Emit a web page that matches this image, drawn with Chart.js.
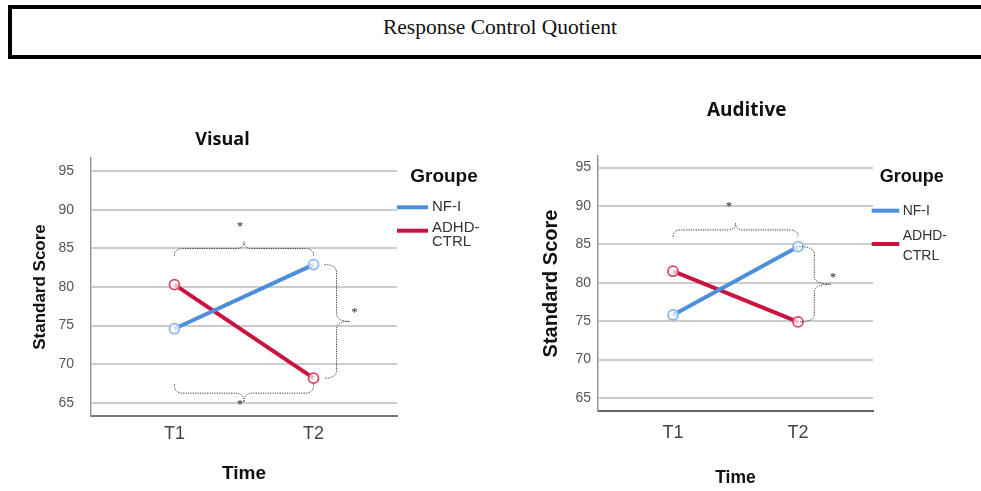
<!DOCTYPE html>
<html><head><meta charset="utf-8">
<script src="https://cdn.jsdelivr.net/npm/chart.js@4.4.1/dist/chart.umd.min.js"></script>
<style>
html,body{margin:0;padding:0;background:#fff;width:981px;height:491px;overflow:hidden;position:relative;}
#hdr{position:absolute;left:8px;top:5px;width:984px;height:54px;box-sizing:border-box;border:4px solid #000;font-family:"Liberation Serif","Times New Roman",serif;font-size:21.5px;color:#111;text-align:center;line-height:36px;}
#c1{position:absolute;left:0;top:120px;}
#c2{position:absolute;left:490px;top:90px;}
</style></head><body>
<div id="hdr"></div>
<canvas id="c1" width="490" height="371"></canvas>
<canvas id="c2" width="491" height="401"></canvas>
<script>
// ---- data ----
const headerTitle = 'Response Control Quotient';
const panelTitles = ['Visual', 'Auditive'];
const timeLabels = ['T1', 'T2'];
const yTicks = [65, 70, 75, 80, 85, 90, 95];
const groupTitle = 'Groupe';
const groupNames = ['NF-I', ['ADHD-', 'CTRL']];
const visualNFI = [74.6, 82.9];
const visualADHD = [80.3, 68.2];
const auditiveNFI = [75.8, 84.7];
const auditiveADHD = [81.5, 74.9];
const yAxisTitle = 'Standard Score';
const xAxisTitle = 'Time';
const sigMark = '*';

document.getElementById('hdr').textContent = headerTitle;

const BLUE = '#4d8fdc', RED = '#c8143f';
const BLUE_PT = '#8ab8ec', RED_PT = '#dc4466';

function drawBrace(ctx, horiz, a1, a2, c, s, hT, hP) {
  const P = (u, v) => horiz ? [u, v] : [v, u];
  const am = (a1 + a2) / 2, r = Math.min(8, (a2 - a1) / 4);
  ctx.beginPath();
  ctx.moveTo(...P(a1, c - s * hT));
  ctx.quadraticCurveTo(...P(a1, c), ...P(a1 + r, c));
  ctx.lineTo(...P(am - r, c));
  ctx.quadraticCurveTo(...P(am, c), ...P(am, c + s * hP));
  ctx.quadraticCurveTo(...P(am, c), ...P(am + r, c));
  ctx.lineTo(...P(a2 - r, c));
  ctx.quadraticCurveTo(...P(a2, c), ...P(a2, c - s * hT));
  ctx.stroke();
}

const decor = {
  id: 'decor',
  afterDraw(chart, args, o) {
    const ctx = chart.ctx, g = o.g;
    ctx.save();
    // panel title
    ctx.fillStyle = '#111';
    ctx.textAlign = 'center'; ctx.textBaseline = 'middle';
    ctx.font = `bold ${g.titleSize}px "Open Sans", Lato, sans-serif`;
    ctx.fillText(o.title, g.titleX, g.titleY);
    // legend
    ctx.font = `bold ${g.groupSize}px "Liberation Sans", Arial, sans-serif`;
    ctx.fillText(groupTitle, g.groupX, g.groupY);
    ctx.textAlign = 'left';
    ctx.font = `${g.itemSize}px "Liberation Sans", Arial, sans-serif`;
    ctx.fillStyle = '#333';
    const cols = [BLUE, RED];
    g.items.forEach((it, i) => {
      ctx.strokeStyle = cols[i]; ctx.lineWidth = 4; ctx.lineCap = 'butt';
      ctx.beginPath(); ctx.moveTo(g.lineX0, it.ly); ctx.lineTo(g.lineX1, it.ly); ctx.stroke();
      const t = groupNames[i];
      const lines = Array.isArray(t) ? t : [t];
      lines.forEach((ln, k) => ctx.fillText(ln, g.textX, it.ty[k]));
    });
    // braces
    const m0 = chart.getDatasetMeta(0).data, m1 = chart.getDatasetMeta(1).data;
    const all = [...m0, ...m1];
    const x1 = m0[0].x, x2 = m0[1].x, xm = (x1 + x2) / 2;
    ctx.strokeStyle = '#333'; ctx.lineWidth = 1;
    ctx.fillStyle = '#222';
    ctx.font = '12px "Liberation Serif", serif';
    ctx.textAlign = 'center'; ctx.textBaseline = 'middle';
    g.braces.forEach(b => {
      ctx.setLineDash([1.2, 1.2]);
      if (b.type === 'top') {
        const c = Math.min(...all.map(p => p.y)) - b.gap;
        drawBrace(ctx, true, x1, x2, c, -1, b.hT, b.hP);
        ctx.setLineDash([]);
        ctx.fillText(sigMark, xm + b.star[0], c - b.hP + b.star[1]);
      } else if (b.type === 'bottom') {
        const c = Math.max(...all.map(p => p.y)) + b.gap;
        drawBrace(ctx, true, x1, x2, c, 1, b.hT, b.hP);
        ctx.setLineDash([]);
        ctx.fillText(sigMark, xm + b.star[0], c + b.hP + b.star[1]);
      } else {
        const ya = Math.min(m0[1].y, m1[1].y), yb = Math.max(m0[1].y, m1[1].y);
        const c = x2 + b.gap;
        drawBrace(ctx, false, ya, yb, c, 1, b.hT, b.hP);
        ctx.setLineDash([]);
        ctx.fillText(sigMark, c + b.hP + b.star[0], (ya + yb) / 2 + b.star[1]);
      }
    });
    ctx.restore();
  }
};

function makeChart(id, title, nfi, adhd, g) {
  const pts = arr => arr.map((v, i) => ({x: i, y: v}));
  return new Chart(document.getElementById(id), {
    type: 'line',
    data: {
      datasets: [
        {label: groupNames[0], data: pts(nfi), borderColor: BLUE, borderWidth: 4,
         pointRadius: 5, pointBorderWidth: 1.8, pointBorderColor: BLUE_PT, pointBackgroundColor: 'rgba(255,255,255,0.7)'},
        {label: 'ADHD-CTRL', data: pts(adhd), borderColor: RED, borderWidth: 4,
         pointRadius: 5, pointBorderWidth: 1.8, pointBorderColor: RED_PT, pointBackgroundColor: 'rgba(255,255,255,0.7)'}
      ]
    },
    options: {
      responsive: false, animation: false, events: [],
      layout: {padding: {left: 0, top: g.padTop, right: g.padRight, bottom: 0}},
      plugins: {legend: {display: false}, title: {display: false}, tooltip: {enabled: false}, decor: {title, g}},
      scales: {
        x: {
          type: 'linear', min: -0.6, max: 1.6,
          afterBuildTicks: s => { s.ticks = timeLabels.map((_, i) => ({value: i})); },
          afterFit: s => { s.height = g.xH; },
          ticks: {callback: v => timeLabels[v], color: '#444', padding: g.xTickPad,
                  font: {family: '"Liberation Sans", Arial, sans-serif', size: g.xTickSize}, autoSkip: false, maxRotation: 0},
          grid: {display: false, drawTicks: false},
          border: {display: true, color: g.xAxisColor, width: 2},
          title: {display: true, text: xAxisTitle, color: '#111',
                  font: {family: '"Liberation Sans", Arial, sans-serif', size: g.xTitleSize, weight: 'bold'},
                  padding: {top: 0, bottom: g.xTitlePadB}}
        },
        y: {
          type: 'linear', min: g.yMin, max: g.yMax,
          afterBuildTicks: s => { s.ticks = yTicks.map(v => ({value: v})); },
          afterFit: s => { s.width = g.yW; },
          ticks: {color: '#555', padding: g.yTickPad,
                  font: {family: '"Liberation Sans", Arial, sans-serif', size: 14}},
          grid: {color: '#cccccc', lineWidth: 2, drawTicks: false},
          border: {display: true, color: '#999', width: 1.5},
          title: {display: true, text: yAxisTitle, color: '#111',
                  font: {family: '"Liberation Sans", Arial, sans-serif', size: g.yTitleSize, weight: 'bold'},
                  padding: {top: g.yTitlePadT, bottom: 0}}
        }
      }
    },
    plugins: [decor]
  });
}

makeChart('c1', panelTitles[0], visualNFI, visualADHD, {
  padTop: 38, padRight: 93, yW: 91, xH: 75, yMin: 63.3, yMax: 96.7,
  xTickPad: 7, xTickSize: 18, xTitleSize: 19, xTitlePadB: 6, xAxisColor: '#777',
  yTickPad: 17, yTitleSize: 17, yTitlePadT: 30,
  titleSize: 18, titleX: 222.5, titleY: 20,
  groupSize: 19, groupX: 444, groupY: 57,
  itemSize: 15, lineX0: 397, lineX1: 428, textX: 432,
  items: [{ly: 87.3, ty: [87.3]}, {ly: 110.7, ty: [107.7, 121.7]}],
  braces: [
    {type: 'top', gap: 16, hT: 7, hP: 7, star: [-4, -15]},
    {type: 'right', gap: 23, hT: 12, hP: 13, star: [5, -9]},
    {type: 'bottom', gap: 15, hT: 9, hP: 9, star: [-4, 3]}
  ]
});

makeChart('c2', panelTitles[1], auditiveNFI, auditiveADHD, {
  padTop: 66, padRight: 108, yW: 108, xH: 80, yMin: 63.3, yMax: 96.5,
  xTickPad: 11.5, xTickSize: 18, xTitleSize: 17.5, xTitlePadB: 2.5, xAxisColor: '#666',
  yTickPad: 7, yTitleSize: 20, yTitlePadT: 49.7,
  titleSize: 19, titleX: 746.7 - 490, titleY: 20.7,
  groupSize: 18, groupX: 421.7, groupY: 87.3,
  itemSize: 14, lineX0: 381.7, lineX1: 409.3, textX: 412.7,
  items: [{ly: 120.7, ty: [120.7]}, {ly: 154, ty: [146, 165.7]}],
  braces: [
    {type: 'top', gap: 16.7, hT: 6.7, hP: 6.7, star: [-6.5, -16]},
    {type: 'right', gap: 16.3, hT: 15, hP: 16.7, star: [2, -6]}
  ]
});
</script>
</body></html>
